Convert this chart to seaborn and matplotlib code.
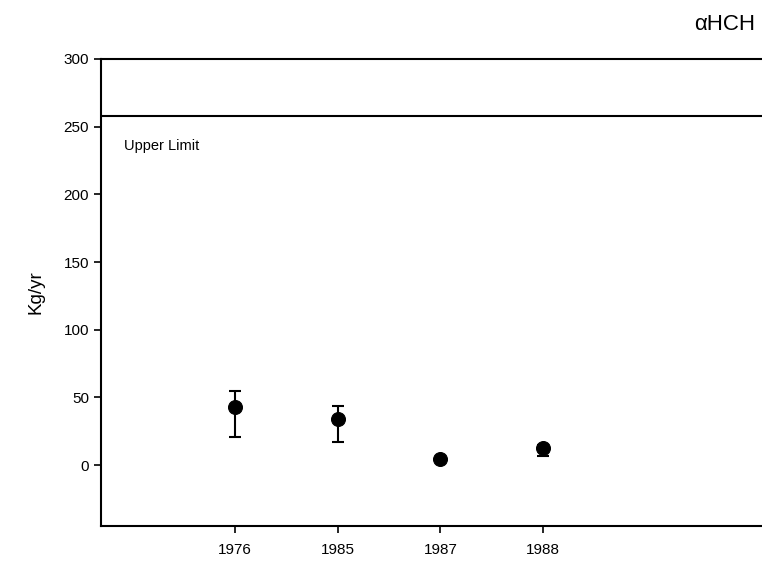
import matplotlib
matplotlib.use("Agg")
import matplotlib.pyplot as plt
import seaborn as sns
import pandas as pd
import numpy as np

years = ["1976", "1985", "1987", "1988"]
values = [43, 34, 4.5, 12.7]
err_low = [21, 17, 4.5, 7]
err_high = [55, 44, 4.5, 15]
upper_limit = 258
y_ticks = [0, 50, 100, 150, 200, 250, 300]

sns.set_theme(style="white")
plt.rcParams["font.family"] = ["Liberation Sans", "DejaVu Sans"]
plt.rcParams["text.color"] = "black"
plt.rcParams["axes.labelcolor"] = "black"

fig = plt.figure(figsize=(7.62, 5.62), dpi=100)
ax = fig.add_axes([101/762, 1 - 526/562, 1 - 101/762 + 0.01, (526 - 59)/562])

df = pd.DataFrame({"year": years, "value": values})
sns.scatterplot(data=df, x="year", y="value", ax=ax, color="black", s=100,
                edgecolor="black", zorder=3)

pos = np.arange(len(years))
vals = np.array(values)
yerr = [vals - np.array(err_low), np.array(err_high) - vals]
ax.errorbar(pos, vals, yerr=yerr, fmt="none", ecolor="black", elinewidth=1.5,
            capsize=4, capthick=1.5, zorder=2)

ax.axhline(upper_limit, color="black", lw=1.5)
ax.text(-1.08, 236, "Upper Limit", fontsize=10.5, va="center", ha="left",
        color="black")

ax.set_xlim(-1.3, 5.2)
ax.set_ylim(-45, 300)
ax.set_yticks(y_ticks)
ax.set_xticks(pos)
ax.set_xticklabels(years)
ax.tick_params(axis="both", direction="out", length=5, width=1.2, colors="black",
               labelsize=11, bottom=True, left=True)
ax.tick_params(axis="x", pad=7)
ax.set_xlabel("")
ax.set_ylabel("Kg/yr", fontsize=13.5, labelpad=14, color="black")

for s in ["left", "bottom", "top"]:
    ax.spines[s].set_visible(True)
    ax.spines[s].set_color("black")
    ax.spines[s].set_linewidth(1.5)
ax.spines["right"].set_visible(False)

fig.text(755/762, 1 - 25/562, "\u03b1HCH", fontsize=16, ha="right", va="center",
         color="black")

fig.savefig("out.png", dpi=100)
